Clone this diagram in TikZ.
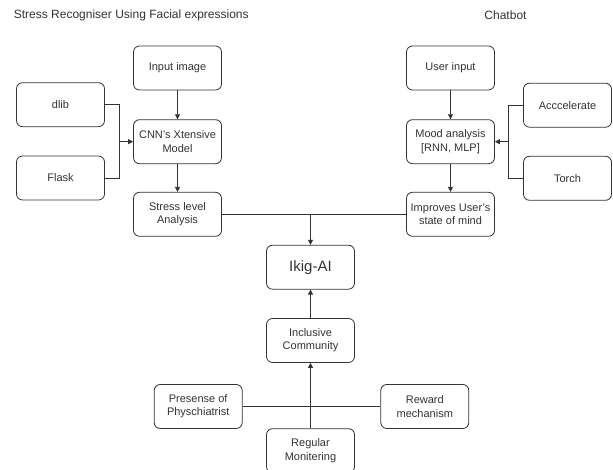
\documentclass[tikz,border=0pt]{standalone}
\usepackage{fontspec}
\setmainfont{Liberation Sans}
\usetikzlibrary{arrows.meta}
\definecolor{ink}{HTML}{333333}
\newcommand{\apos}{\char39\relax}
\tikzset{
  box/.style={draw=ink, line width=0.8pt, rounded corners=6pt, minimum width=88pt, minimum height=44pt, inner sep=1pt, align=center, text=ink, font=\fontsize{11}{13.3}\selectfont},
  conn/.style={draw=ink, line width=0.8pt},
  arr/.style={conn, -{Triangle[length=5pt,width=5pt]}},
  lbl/.style={text=ink, font=\fontsize{12}{14}\selectfont, inner sep=0pt}
}
\begin{document}
\begin{tikzpicture}[x=1pt,y=1pt]
\useasboundingbox[fill=white] (0,0) rectangle (613,470);
\node[lbl, anchor=west] (title) at (13.7,455) {Stress Recogniser Using Facial expressions};
\node[lbl] (chat) at (505.5,455) {Chatbot};

\node[box] (input) at (177.5,402) {Input image};
\node[box] (dlib) at (60.5,365.3) {dlib};
\node[box] (flask) at (60.5,292) {Flask};
\node[box] (cnn) at (177.5,328.3) {CNN\apos s Xtensive\\Model};
\node[box] (stress) at (177.5,255.7) {Stress level\\Analysis};

\node[box] (user) at (450.5,402) {User input};
\node[box] (mood) at (450.5,328.3) {Mood analysis\\{[}RNN, MLP{]}};
\node[box] (impr) at (450.5,255.7) {Improves User\apos s\\state of mind};
\node[box] (accel) at (567.5,364.8) {Acccelerate};
\node[box] (torch) at (567.5,291.7) {Torch};

\node[box, font=\fontsize{15}{17}\selectfont] (ikig) at (310.5,202.8) {Ikig-AI};
\node[box] (incl) at (310.5,129.5) {Inclusive\\Community};
\node[box] (pres) at (198.2,63.5) {Presense of\\Physchiatrist};
\node[box] (rew) at (424.8,63.5) {Reward\\mechanism};
\node[box] (reg) at (310.5,19.3) {Regular\\Monitering};

\coordinate (lb) at (119.1,328.3);
\coordinate (rb) at (508.3,328.3);
\coordinate (jn) at (310.5,255.7);

\draw[arr] (input) -- (cnn);
\draw[arr] (cnn) -- (stress);
\draw[conn] (dlib.east) -| (lb) |- (flask.east);
\draw[arr] (lb) -- (cnn.west);

\draw[arr] (user) -- (mood);
\draw[arr] (mood) -- (impr);
\draw[conn] (accel.west) -| (rb) |- (torch.west);
\draw[arr] (rb) -- (mood.east);

\draw[conn] (stress.east) -- (impr.west);
\draw[arr] (jn) -- (ikig.north);

\draw[arr] (incl) -- (ikig);
\draw[conn] (pres.east) -- (rew.west);
\draw[arr] (reg) -- (incl);
\end{tikzpicture}
\end{document}
